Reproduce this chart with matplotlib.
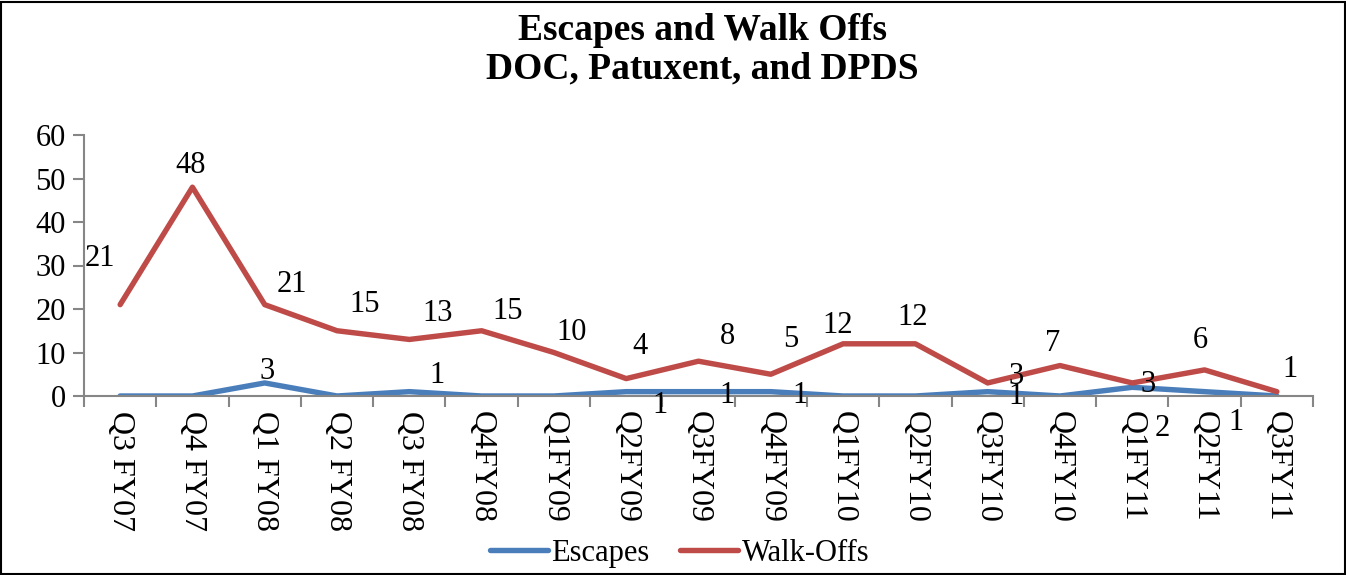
import matplotlib
matplotlib.use("Agg")
import matplotlib.pyplot as plt
from matplotlib.patches import Rectangle

# datos del grafico
trimestres = ["Q3 FY07", "Q4 FY07", "Q1 FY08", "Q2 FY08", "Q3 FY08", "Q4FY08",
              "Q1FY09", "Q2FY09", "Q3FY09", "Q4FY09", "Q1FY10", "Q2FY10",
              "Q3FY10", "Q4FY10", "Q1FY11", "Q2FY11", "Q3FY11"]
escapes = [0, 0, 3, 0, 1, 0, 0, 1, 1, 1, 0, 0, 1, 0, 2, 1, 0]
walk_offs = [21, 48, 21, 15, 13, 15, 10, 4, 8, 5, 12, 12, 3, 7, 3, 6, 1]

# desplazamiento de las etiquetas (pixeles, como en el original)
offs_walk = [(-20, 46), (-2, 22), (27, 20), (28, 26), (28, 26), (26, 19), (18, 20),
             (14, 32), (29, 25), (20, 35), (-5, 18), (-3, 26), (28, 6), (-7, 22),
             (16, -2), (-4, 29), (13, 22)]
offs_esc = {2: (2, 11), 4: (28, 16), 7: (34, -14), 8: (29, -4), 9: (29, -4),
            12: (28, -5), 14: (30, -41), 15: (31, -31)}

azul = "#4A7EBB"
rojo = "#BE4B48"
gris = "#868686"
plt.rcParams["font.family"] = "Liberation Serif"

fig = plt.figure(figsize=(13.46, 5.75), dpi=100)
ax = fig.add_axes([84 / 1346, 179 / 575, 1229 / 1346, 261 / 575])

x = list(range(len(trimestres)))
ax.plot(x, escapes, color=azul, linewidth=3.9, solid_capstyle="round", label="Escapes")
ax.plot(x, walk_offs, color=rojo, linewidth=3.9, solid_capstyle="round", label="Walk-Offs")

for i, v in enumerate(walk_offs):
    ax.annotate(str(v), (i, v), xytext=offs_walk[i], textcoords="offset pixels",
                ha="center", va="center", fontsize=22)
for i, v in enumerate(escapes):
    if v != 0:
        ax.annotate(str(v), (i, v), xytext=offs_esc[i], textcoords="offset pixels",
                    ha="center", va="center", fontsize=22)

ax.set_xlim(-0.5, len(trimestres) - 0.5)
ax.set_ylim(0, 60)
ax.set_yticks(range(0, 61, 10))
ax.set_xticks(x)
ax.set_xticklabels(trimestres, rotation=270, va="top", ha="center", fontsize=23)
ax.set_xticks([i - 0.5 for i in range(len(trimestres) + 1)], minor=True)
ax.tick_params(axis="x", which="major", length=0, pad=11)
ax.tick_params(axis="x", which="minor", length=8, width=1.5, color=gris, direction="out")
ax.tick_params(axis="y", length=8, width=1.5, color=gris, labelsize=22, pad=5)
for lado in ["top", "right"]:
    ax.spines[lado].set_visible(False)
for lado in ["left", "bottom"]:
    ax.spines[lado].set_color(gris)
    ax.spines[lado].set_linewidth(1.5)

fig.text(0.522, 0.913, "Escapes and Walk Offs\nDOC, Patuxent, and DPDS", ha="center", va="center",
         fontsize=27, fontweight="bold", linespacing=1.12)

fig.legend(loc="center", bbox_to_anchor=(0.505, 0.038), ncol=2, frameon=False,
           fontsize=22, handlelength=1.9, handletextpad=0.1, columnspacing=1.0)

fig.patches.append(Rectangle((0.001, 0.001), 0.998, 0.996, transform=fig.transFigure,
                             fill=False, edgecolor="black", linewidth=1.5))

fig.savefig("out.png", dpi=100)
